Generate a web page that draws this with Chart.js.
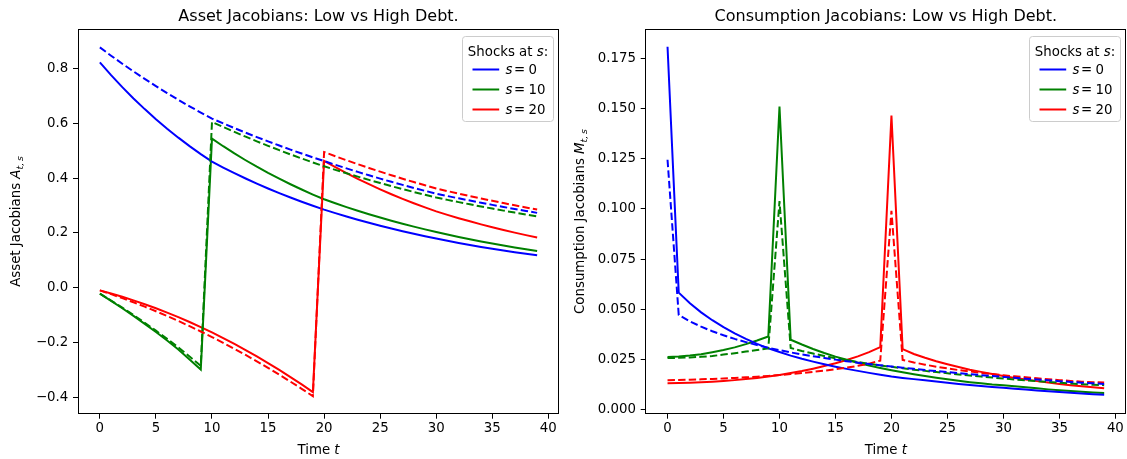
<!DOCTYPE html>
<html>
<head>
<meta charset="utf-8">
<script src="https://cdn.jsdelivr.net/npm/chart.js@4.4.1/dist/chart.umd.min.js"></script>
<style>
  html, body { margin: 0; padding: 0; background: #ffffff; overflow: hidden; }
  #wrap { position: relative; width: 1127px; height: 459px; background: #ffffff; }
  canvas { position: absolute; top: 0; }
  #assetCanvas { left: 0; }
  #consCanvas { left: 563px; }
</style>
</head>
<body>
<div id="wrap">
  <canvas id="assetCanvas" width="563" height="459"></canvas>
  <canvas id="consCanvas" width="564" height="459"></canvas>
</div>
<script>
// ---- horizon and tick positions ----
const timeSteps = [0,1,2,3,4,5,6,7,8,9,10,11,12,13,14,15,16,17,18,19,20,21,22,23,24,25,26,27,28,29,30,31,32,33,34,35,36,37,38,39];
const xTickValues = [0,5,10,15,20,25,30,35,40];
const assetTickValues = [-0.4,-0.2,0.0,0.2,0.4,0.6,0.8];
const consTickValues = [0.000,0.025,0.050,0.075,0.100,0.125,0.150,0.175];
const shockDates = [0,10,20];
const shockColors = ['#0000ff','#008000','#ff0000'];

// ---- asset Jacobians A_{t,s}: low debt (solid) ----
const assetLowS0 = [0.822,0.7756,0.7319,0.6906,0.6517,0.6149,0.5802,0.5475,0.5166,0.4875,0.4600,0.4385,0.4180,0.3985,0.3798,0.3621,0.3452,0.3290,0.3137,0.2990,0.2850,0.2721,0.2597,0.2479,0.2367,0.2260,0.2157,0.2059,0.1966,0.1877,0.1792,0.1710,0.1633,0.1559,0.1488,0.1421,0.1356,0.1295,0.1236,0.1180];
const assetLowS10 = [-0.022,-0.048,-0.075,-0.103,-0.132,-0.162,-0.193,-0.226,-0.262,-0.299,0.5440,0.5163,0.4900,0.4651,0.4414,0.4189,0.3976,0.3774,0.3582,0.3399,0.3226,0.3080,0.2941,0.2808,0.2681,0.2560,0.2444,0.2334,0.2228,0.2128,0.2031,0.1940,0.1852,0.1768,0.1688,0.1612,0.1539,0.1470,0.1403,0.1340];
const assetLowS20 = [-0.0100,-0.0212,-0.0333,-0.0463,-0.0603,-0.0752,-0.0910,-0.1077,-0.1254,-0.1440,-0.1635,-0.1840,-0.2053,-0.2277,-0.2509,-0.2751,-0.3002,-0.3262,-0.3531,-0.3810,0.4626,0.4397,0.4179,0.3972,0.3776,0.3589,0.3411,0.3242,0.3082,0.2929,0.2784,0.2657,0.2536,0.2421,0.2311,0.2205,0.2105,0.2009,0.1918,0.1830];

// ---- asset Jacobians A_{t,s}: high debt (dashed) ----
const assetHighS0 = [0.877,0.8467,0.8174,0.7892,0.7619,0.7356,0.7102,0.6856,0.6619,0.6391,0.6170,0.5994,0.5823,0.5657,0.5496,0.5339,0.5187,0.5039,0.4895,0.4756,0.4620,0.4484,0.4353,0.4225,0.4101,0.3981,0.3864,0.3751,0.3641,0.3534,0.3430,0.3344,0.3260,0.3179,0.3099,0.3022,0.2946,0.2872,0.2800,0.2730];
const assetHighS10 = [-0.022,-0.047,-0.073,-0.100,-0.128,-0.157,-0.187,-0.218,-0.251,-0.285,0.6050,0.5864,0.5684,0.5510,0.5341,0.5177,0.5018,0.4864,0.4715,0.4570,0.4430,0.4300,0.4174,0.4052,0.3933,0.3818,0.3706,0.3597,0.3492,0.3389,0.3290,0.3205,0.3122,0.3042,0.2963,0.2887,0.2812,0.2740,0.2669,0.2600];
const assetHighS20 = [-0.0100,-0.0237,-0.0382,-0.0534,-0.0694,-0.0860,-0.1034,-0.1215,-0.1404,-0.1600,-0.1803,-0.2013,-0.2231,-0.2456,-0.2689,-0.2928,-0.3175,-0.3430,-0.3691,-0.3960,0.4950,0.4797,0.4650,0.4507,0.4368,0.4234,0.4103,0.3977,0.3854,0.3736,0.3620,0.3525,0.3433,0.3343,0.3255,0.3170,0.3087,0.3006,0.2927,0.2850];

// ---- consumption Jacobians M_{t,s}: low debt (solid) ----
const consLowS0 = [0.1806,0.0583,0.0530,0.0485,0.0446,0.0412,0.0381,0.0353,0.0328,0.0306,0.0288,0.0270,0.0254,0.0240,0.0227,0.0215,0.0204,0.0194,0.0184,0.0175,0.0166,0.0159,0.0153,0.0147,0.0141,0.0135,0.0129,0.0124,0.0119,0.0114,0.0110,0.0105,0.0101,0.0097,0.0093,0.0089,0.0085,0.0082,0.0078,0.0075];
const consLowS10 = [0.0263,0.0265,0.0270,0.0277,0.0287,0.0298,0.0311,0.0327,0.0345,0.0365,0.1509,0.0349,0.0325,0.0303,0.0283,0.0265,0.0249,0.0234,0.0220,0.0208,0.0197,0.0187,0.0177,0.0168,0.0160,0.0152,0.0145,0.0138,0.0132,0.0126,0.0122,0.0117,0.0112,0.0107,0.0102,0.0098,0.0094,0.0090,0.0087,0.0084];
const consLowS20 = [0.0133,0.0134,0.0135,0.0137,0.0140,0.0144,0.0148,0.0153,0.0159,0.0166,0.0174,0.0183,0.0193,0.0205,0.0218,0.0232,0.0248,0.0266,0.0287,0.0312,0.1464,0.0302,0.0278,0.0259,0.0242,0.0227,0.0213,0.0200,0.0189,0.0178,0.0168,0.0159,0.0151,0.0143,0.0136,0.0129,0.0123,0.0117,0.0112,0.0107];

// ---- consumption Jacobians M_{t,s}: high debt (dashed) ----
const consHighS0 = [0.1244,0.0472,0.0440,0.0414,0.0391,0.0371,0.0353,0.0337,0.0322,0.0309,0.0297,0.0286,0.0276,0.0267,0.0258,0.0250,0.0242,0.0235,0.0228,0.0222,0.0216,0.0210,0.0204,0.0198,0.0193,0.0188,0.0183,0.0178,0.0173,0.0168,0.0164,0.0160,0.0155,0.0151,0.0147,0.0143,0.0139,0.0135,0.0132,0.0129];
const consHighS10 = [0.0258,0.0259,0.0261,0.0264,0.0268,0.0275,0.0282,0.0290,0.0298,0.0306,0.1038,0.0308,0.0293,0.0280,0.0268,0.0257,0.0247,0.0238,0.0229,0.0221,0.0214,0.0207,0.0200,0.0194,0.0188,0.0182,0.0176,0.0171,0.0166,0.0161,0.0156,0.0151,0.0147,0.0143,0.0139,0.0135,0.0131,0.0128,0.0125,0.0123];
const consHighS20 = [0.0148,0.0149,0.0150,0.0152,0.0154,0.0156,0.0159,0.0162,0.0165,0.0169,0.0173,0.0178,0.0183,0.0189,0.0195,0.0202,0.0210,0.0219,0.0230,0.0245,0.0990,0.0249,0.0236,0.0225,0.0215,0.0206,0.0198,0.0191,0.0184,0.0178,0.0172,0.0167,0.0162,0.0157,0.0152,0.0148,0.0144,0.0140,0.0138,0.0136];

// ---- styling ----
const FAMILY = '"DejaVu Sans", "Liberation Sans", sans-serif';
const TICK_SIZE = 13.33;
const LABEL_SIZE = 13.33;
const TITLE_SIZE = 16;
const LINE_WIDTH = 2;
const DASH = [7.4, 3.2];

function fontOf(size, italic) {
  return (italic ? 'italic ' : '') + size + 'px ' + FAMILY;
}

function minusSign(str) {
  return str.replace('-', '\u2212');
}

// Mixed-style text: pieces may be italic (math letters) or subscripts.
function drawRich(ctx, pieces, size, x, y, align, angle) {
  ctx.save();
  ctx.translate(x, y);
  if (angle) ctx.rotate(angle);
  ctx.fillStyle = '#000000';
  ctx.textBaseline = 'alphabetic';
  ctx.textAlign = 'left';
  const sized = pieces.map(p => {
    const s = p.sub ? size * 0.7 : size;
    ctx.font = fontOf(s, p.it);
    return { p: p, s: s, w: ctx.measureText(p.t).width + (p.gap || 0) };
  });
  const total = sized.reduce((acc, q) => acc + q.w, 0);
  let cx = align === 'center' ? -total / 2 : 0;
  sized.forEach(q => {
    ctx.font = fontOf(q.s, q.p.it);
    ctx.fillText(q.p.t, cx, q.p.sub ? size * 0.22 : 0);
    cx += q.w;
  });
  ctx.restore();
}

function roundedRect(ctx, x, y, w, h, r) {
  ctx.beginPath();
  ctx.moveTo(x + r, y);
  ctx.lineTo(x + w - r, y);
  ctx.arcTo(x + w, y, x + w, y + r, r);
  ctx.lineTo(x + w, y + h - r);
  ctx.arcTo(x + w, y + h, x + w - r, y + h, r);
  ctx.lineTo(x + r, y + h);
  ctx.arcTo(x, y + h, x, y + h - r, r);
  ctx.lineTo(x, y + r);
  ctx.arcTo(x, y, x + r, y, r);
  ctx.closePath();
}

// Legend box in the upper-right corner of the plot area, one entry per shock date.
function drawLegend(chart) {
  const ctx = chart.ctx;
  const a = chart.chartArea;
  const boxW = 91, boxH = 85;
  const boxRight = a.right - 6;
  const boxLeft = Math.round(boxRight - boxW) + 0.5;
  const boxTop = Math.round(a.top + 6.7) + 0.5;
  ctx.save();
  roundedRect(ctx, boxLeft, boxTop, boxW, boxH, 3);
  ctx.fillStyle = 'rgba(255,255,255,0.8)';
  ctx.fill();
  ctx.strokeStyle = '#cccccc';
  ctx.lineWidth = 1;
  ctx.stroke();
  ctx.restore();

  drawRich(ctx, [{ t: 'Shocks at ' }, { t: 's', it: true }, { t: ':' }],
           LABEL_SIZE, boxLeft + boxW / 2, boxTop + 19.5, 'center');

  const entries = chart.data.datasets.filter(d => d.legendEntry);
  entries.forEach((d, i) => {
    const y = boxTop + 33 + i * 20;
    ctx.save();
    ctx.strokeStyle = d.borderColor;
    ctx.lineWidth = LINE_WIDTH;
    ctx.beginPath();
    ctx.moveTo(boxLeft + 10, y);
    ctx.lineTo(boxLeft + 36.7, y);
    ctx.stroke();
    ctx.restore();
    drawRich(ctx, [{ t: 's', it: true, gap: 1.5 }, { t: '=', gap: 3.5 }, { t: d.shockText }],
             LABEL_SIZE, boxLeft + 43, y + 4.8, 'left');
  });
}

// Frame, title, axis labels and legend drawn on top of the plotted lines.
function decorations(spec) {
  return {
    id: 'decorations',
    afterDraw(chart) {
      const ctx = chart.ctx;
      const a = chart.chartArea;
      ctx.save();
      ctx.strokeStyle = '#000000';
      ctx.lineWidth = 1;
      const l = Math.floor(a.left) + 0.5, r = Math.floor(a.right) - 0.5;
      const t = Math.floor(a.top) + 0.5, b = Math.floor(a.bottom) + 0.5;
      ctx.strokeRect(l, t, r - l, b - t);
      ctx.restore();

      const midX = (a.left + a.right) / 2;
      drawRich(ctx, spec.title, TITLE_SIZE, midX, a.top - 8, 'center');
      drawRich(ctx, spec.xLabel, LABEL_SIZE, midX, 454, 'center');
      drawRich(ctx, spec.yLabel, LABEL_SIZE, spec.yLabelX, (a.top + a.bottom) / 2, 'center', -Math.PI / 2);
      drawLegend(chart);
    }
  };
}

function makeDatasets(lowSeries, highSeries) {
  const sets = [];
  lowSeries.forEach((vals, k) => {
    sets.push({
      label: 's = ' + shockDates[k],
      shockText: String(shockDates[k]),
      legendEntry: true,
      data: vals.map((v, i) => ({ x: timeSteps[i], y: v })),
      borderColor: shockColors[k],
      borderWidth: LINE_WIDTH,
      pointRadius: 0,
      tension: 0,
      fill: false,
      order: 1
    });
  });
  highSeries.forEach((vals, k) => {
    sets.push({
      label: 's = ' + shockDates[k] + ' (high debt)',
      shockText: String(shockDates[k]),
      legendEntry: false,
      data: vals.map((v, i) => ({ x: timeSteps[i], y: v })),
      borderColor: shockColors[k],
      borderWidth: LINE_WIDTH,
      borderDash: DASH,
      pointRadius: 0,
      tension: 0,
      fill: false,
      order: 0
    });
  });
  return sets;
}

function tickGrid() {
  return {
    display: true,
    drawOnChartArea: false,
    drawTicks: true,
    tickLength: 5,
    tickColor: '#000000',
    tickWidth: 1
  };
}

function buildChart(canvasId, cfg) {
  return new Chart(document.getElementById(canvasId), {
    type: 'line',
    data: { datasets: cfg.datasets },
    options: {
      responsive: false,
      animation: false,
      events: [],
      layout: { padding: { top: 29.3, right: cfg.padRight, bottom: 0, left: 0 } },
      plugins: {
        legend: { display: false },
        title: { display: false },
        tooltip: { enabled: false }
      },
      scales: {
        x: {
          type: 'linear',
          bounds: 'data',
          min: -1.95,
          max: 40.95,
          afterBuildTicks: scale => { scale.ticks = xTickValues.map(v => ({ value: v })); },
          afterFit: scale => { scale.height = 45.3; },
          ticks: {
            autoSkip: false,
            maxRotation: 0,
            padding: 2.3,
            color: '#000000',
            font: { family: FAMILY, size: TICK_SIZE },
            callback: v => String(v)
          },
          grid: tickGrid(),
          border: { display: false }
        },
        y: {
          type: 'linear',
          bounds: 'data',
          min: cfg.yMin,
          max: cfg.yMax,
          afterBuildTicks: scale => { scale.ticks = cfg.yTicks.map(v => ({ value: v })); },
          afterFit: scale => { scale.width = cfg.yAxisWidth; },
          ticks: {
            autoSkip: false,
            padding: 4.7,
            color: '#000000',
            font: { family: FAMILY, size: TICK_SIZE },
            callback: v => minusSign(Number(v).toFixed(cfg.decimals))
          },
          grid: tickGrid(),
          border: { display: false }
        }
      }
    },
    plugins: [decorations(cfg.text)]
  });
}

buildChart('assetCanvas', {
  datasets: makeDatasets([assetLowS0, assetLowS10, assetLowS20], [assetHighS0, assetHighS10, assetHighS20]),
  yMin: -0.46,
  yMax: 0.943,
  yTicks: assetTickValues,
  decimals: 1,
  yAxisWidth: 78,
  padRight: 4,
  text: {
    title: [{ t: 'Asset Jacobians: Low vs High Debt.' }],
    xLabel: [{ t: 'Time ' }, { t: 't', it: true }],
    yLabel: [{ t: 'Asset Jacobians ' }, { t: 'A', it: true }, { t: 't,\u2009s', it: true, sub: true }],
    yLabelX: 20
  }
});

buildChart('consCanvas', {
  datasets: makeDatasets([consLowS0, consLowS10, consLowS20], [consHighS0, consHighS10, consHighS20]),
  yMin: -0.0019,
  yMax: 0.1893,
  yTicks: consTickValues,
  decimals: 3,
  yAxisWidth: 82.7,
  padRight: 1,
  text: {
    title: [{ t: 'Consumption Jacobians: Low vs High Debt.' }],
    xLabel: [{ t: 'Time ' }, { t: 't', it: true }],
    yLabel: [{ t: 'Consumption Jacobians ' }, { t: 'M', it: true }, { t: 't,\u2009s', it: true, sub: true }],
    yLabelX: 20.8
  }
});
</script>
</body>
</html>
